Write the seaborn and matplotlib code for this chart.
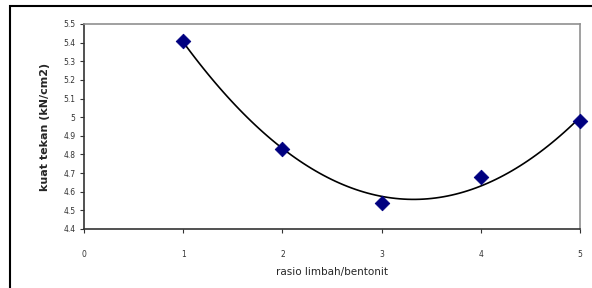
import numpy as np
import pandas as pd
import seaborn as sns
import matplotlib.pyplot as plt
from matplotlib.patches import Rectangle

rasio = [1, 2, 3, 4, 5]
kuat_tekan = [5.41, 4.83, 4.54, 4.68, 4.98]
x_ticks = [0, 1, 2, 3, 4, 5]
y_ticks = [4.4, 4.5, 4.6, 4.7, 4.8, 4.9, 5.0, 5.1, 5.2, 5.3, 5.4, 5.5]

df = pd.DataFrame({'rasio': rasio, 'kuat_tekan': kuat_tekan})

sns.set_style('white')
plt.rcParams['font.family'] = ['DejaVu Sans']

fig = plt.figure(figsize=(5.92, 2.88), dpi=100)
W, H = 592, 288
ax = fig.add_axes([84 / W, 1 - 229 / H, (580 - 84) / W, (229 - 24) / H])

# outer chart border (cropped at right/bottom in the original)
fig.patches.append(Rectangle((10 / W, -0.1), 1.2, 1 - 6 / H + 0.1, transform=fig.transFigure,
                             fill=False, edgecolor='black', linewidth=1.5, zorder=0))

# polynomial trendline (order 2)
sns.regplot(data=df, x='rasio', y='kuat_tekan', order=2, ci=None, scatter=False,
            line_kws={'color': 'black', 'linewidth': 1.2}, ax=ax)
sns.scatterplot(data=df, x='rasio', y='kuat_tekan', marker='D', s=55, color='#000080',
                edgecolor='#000080', zorder=5, clip_on=False, ax=ax)

ax.set_xlim(0, 5)
ax.set_ylim(4.4, 5.5)
ax.set_xticks(x_ticks)
ax.set_yticks(y_ticks)
ax.set_xticklabels([str(t) for t in x_ticks])
ax.set_yticklabels(['4.4', '4.5', '4.6', '4.7', '4.8', '4.9', '5', '5.1', '5.2', '5.3', '5.4', '5.5'])
ax.tick_params(axis='both', which='both', labelsize=5.5, length=3, width=0.8, direction='out',
               bottom=True, left=True, colors='#333333')
ax.tick_params(axis='x', pad=12)
ax.tick_params(axis='y', pad=3)

for side in ['left', 'bottom']:
    ax.spines[side].set_color('#333333')
    ax.spines[side].set_linewidth(1.2)
for side in ['top', 'right']:
    ax.spines[side].set_color('#909090')
    ax.spines[side].set_linewidth(1.2)

ax.set_xlabel('rasio limbah/bentonit', fontsize=7.5, labelpad=6)
ax.set_ylabel('kuat tekan (kN/cm2)', fontsize=8, fontweight='bold', labelpad=10)

fig.savefig('out.png', dpi=100)
